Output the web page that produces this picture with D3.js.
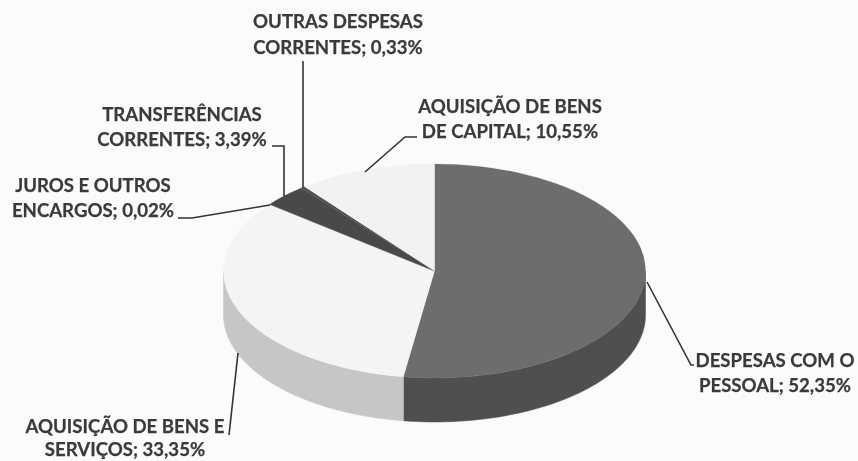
<!DOCTYPE html>
<html lang="pt">
<head>
<meta charset="utf-8">
<script src="https://cdnjs.cloudflare.com/ajax/libs/d3/7.8.5/d3.min.js"></script>
<style>
html,body{margin:0;padding:0;background:#fbfbfb;overflow:hidden}
svg{display:block}
text{font-family:Lato,"Open Sans",sans-serif;font-weight:700;font-size:18.6px;fill:#3a3a3a;stroke:#3a3a3a;stroke-width:0.25px}
</style>
</head>
<body>
<svg id="chart" width="858" height="461"></svg>
<script>
// Data, clockwise from 12 o'clock
const categories = ["DESPESAS COM O PESSOAL","AQUISIÇÃO DE BENS E SERVIÇOS","JUROS E OUTROS ENCARGOS","TRANSFERÊNCIAS CORRENTES","OUTRAS DESPESAS CORRENTES","AQUISIÇÃO DE BENS DE CAPITAL"];
const values = [52.35,33.35,0.02,3.39,0.33,10.55];
const valueLabels = ["52,35%","33,35%","0,02%","3,39%","0,33%","10,55%"];

// Styles and layout, separate from the data
const topColors  = ["#6d6d6d","#f4f4f4","#4a4a4a","#4a4a4a","#4f4f4f","#f2f2f2"];
const sideColors = ["#505050","#c6c6c6","#777777","#3a3a3a","#888888","#cfcfcf"];
const cx=434.5, cy=271, rx=211, ry=107, depth=44;

const labelLayout = [
  {lines:["DESPESAS COM O","PESSOAL; 52,35%"],x:775,ys:[367,392],leader:[[647,282],[691,365],[694,365]]},
  {lines:["AQUISIÇÃO DE BENS E","SERVIÇOS; 33,35%"],x:125,ys:[433,456],leader:[[238,353],[229,435]]},
  {lines:["JUROS E OUTROS","ENCARGOS; 0,02%"],x:93,ys:[192,217],leader:[[178,218],[192,218],[270,205]]},
  {lines:["TRANSFERÊNCIAS","CORRENTES; 3,39%"],x:182,ys:[121,146],leader:[[272,146],[284,146],[284,196]]},
  {lines:["OUTRAS DESPESAS","CORRENTES; 0,33%"],x:338,ys:[28,54],leader:[[303,61],[303,188]]},
  {lines:["AQUISIÇÃO DE BENS","DE CAPITAL; 10,55%"],x:510,ys:[113,138],leader:[[365,172],[405,137],[417,137]]}
];

const svg = d3.select("#chart");
const defs = svg.append("defs");
const f = defs.append("filter").attr("id","scan").attr("x","-5%").attr("y","-5%").attr("width","110%").attr("height","110%");
f.append("feGaussianBlur").attr("stdDeviation",0.45);

const pie = d3.pie().sort(null).value(d=>d).startAngle(0).endAngle(2*Math.PI);
const arcs = pie(values);
const arc = d3.arc().innerRadius(0).outerRadius(rx);
const px = a => cx + rx*Math.sin(a);
const py = a => cy - ry*Math.cos(a);

const g = svg.append("g").attr("filter","url(#scan)");

// Side wall: front half of the ellipse only
const lo = Math.PI/2, hi = 3*Math.PI/2;
const sideLine = d3.line();
arcs.forEach((d,i)=>{
  const a0 = Math.max(d.startAngle,lo), a1 = Math.min(d.endAngle,hi);
  if(a1<=a0) return;
  const steps = d3.range(0,61).map(k=>a0+(a1-a0)*k/60);
  const upper = steps.map(a=>[px(a),py(a)]);
  const lower = steps.slice().reverse().map(a=>[px(a),py(a)+depth]);
  g.append("path").attr("d",sideLine(upper.concat(lower))+"Z").attr("fill",sideColors[i]).attr("stroke",sideColors[i]).attr("stroke-width",0.5);
});

// Top face: a d3 arc squashed into an ellipse
const topFace = g.append("g").attr("transform",`translate(${cx},${cy}) scale(1,${ry/rx})`);
topFace.selectAll("path").data(arcs).join("path")
  .attr("d",arc)
  .attr("fill",(d,i)=>topColors[i])
  .attr("stroke",(d,i)=>topColors[i])
  .attr("stroke-width",0.3);

// Leader lines
const leader = d3.line();
g.selectAll("path.leader").data(labelLayout).join("path")
  .attr("class","leader")
  .attr("d",d=>leader(d.leader))
  .attr("fill","none").attr("stroke","#333").attr("stroke-width",1.6);

// Labels
labelLayout.forEach((l,i)=>{
  const t = g.append("text").attr("text-anchor","middle");
  l.lines.forEach((s,k)=>t.append("tspan").attr("x",l.x).attr("y",l.ys[k]).text(s));
});
</script>
</body>
</html>
